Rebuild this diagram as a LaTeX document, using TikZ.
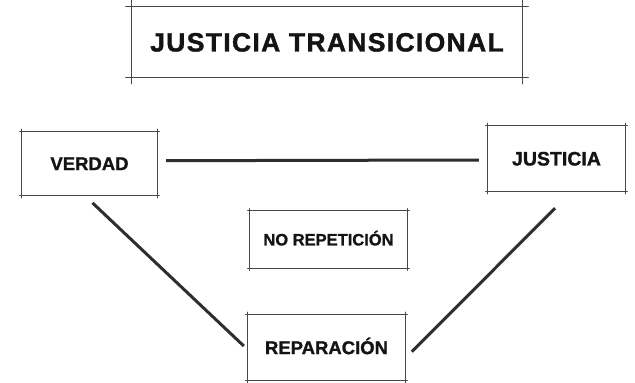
\documentclass[tikz,border=0pt]{standalone}
\usepackage{fontspec}
\setmainfont{Liberation Sans}
\newcommand\skbox[2]{%
  \draw[boxline] ([xshift=-#2pt]#1.north west) -- ([xshift=#2pt]#1.north east);
  \draw[boxline] ([xshift=-#2pt]#1.south west) -- ([xshift=#2pt]#1.south east);
  \draw[boxline] ([yshift=#2pt]#1.north west) -- ([yshift=-#2pt]#1.south west);
  \draw[boxline] ([yshift=#2pt]#1.north east) -- ([yshift=-#2pt]#1.south east);
}
\begin{document}
\begin{tikzpicture}[x=1pt,y=-1pt,
  box/.style={draw=none, inner sep=0pt, text=black!92, align=center,
    font=\bfseries\fontsize{#1}{#1}\selectfont\addfontfeature{FakeBold=1.2},
    text height={0.716*#1pt}, text depth=0pt},
  boxline/.style={draw=black!72, line width=1.3pt, line cap=round},
  conn/.style={draw=black!82, line width=3pt}]
\useasboundingbox[fill=white] (0,0) rectangle (635,383);

\node[box=26.5, minimum width=390pt, minimum height=71pt,
  font=\bfseries\fontsize{26.5}{30}\selectfont\addfontfeature{FakeBold=1.4,LetterSpace=5}] (title) at (327,42) {JUSTICIA TRANSICIONAL};
\node[box=18.5, minimum width=135pt, minimum height=64pt] (verdad) at (89.5,163.5) {VERDAD};
\node[box=19.5, minimum width=137pt, minimum height=66pt] (justicia) at (556.5,158.5) {JUSTICIA};
\node[box=16.5, minimum width=157pt, minimum height=57pt] (norep) at (328.5,239.5) {NO REPETICIÓN};
\node[box=18.5, minimum width=157pt, minimum height=66pt] (repar) at (326.5,347.5) {REPARACIÓN};

\skbox{title}{6}
\skbox{verdad}{2}
\skbox{justicia}{2}
\skbox{norep}{2}
\skbox{repar}{2}

\draw[conn] ([shift={(9,-2.8)}]verdad.east) -- ([shift={(-9,1.5)}]justicia.west);
\draw[conn] ([shift={(3,7.2)}]verdad.south) -- ([shift={(-4,-1.5)}]repar.west);
\draw[conn] ([shift={(-1.5,16.5)}]justicia.south) -- ([shift={(6.7,4.2)}]repar.east);
\end{tikzpicture}
\end{document}
